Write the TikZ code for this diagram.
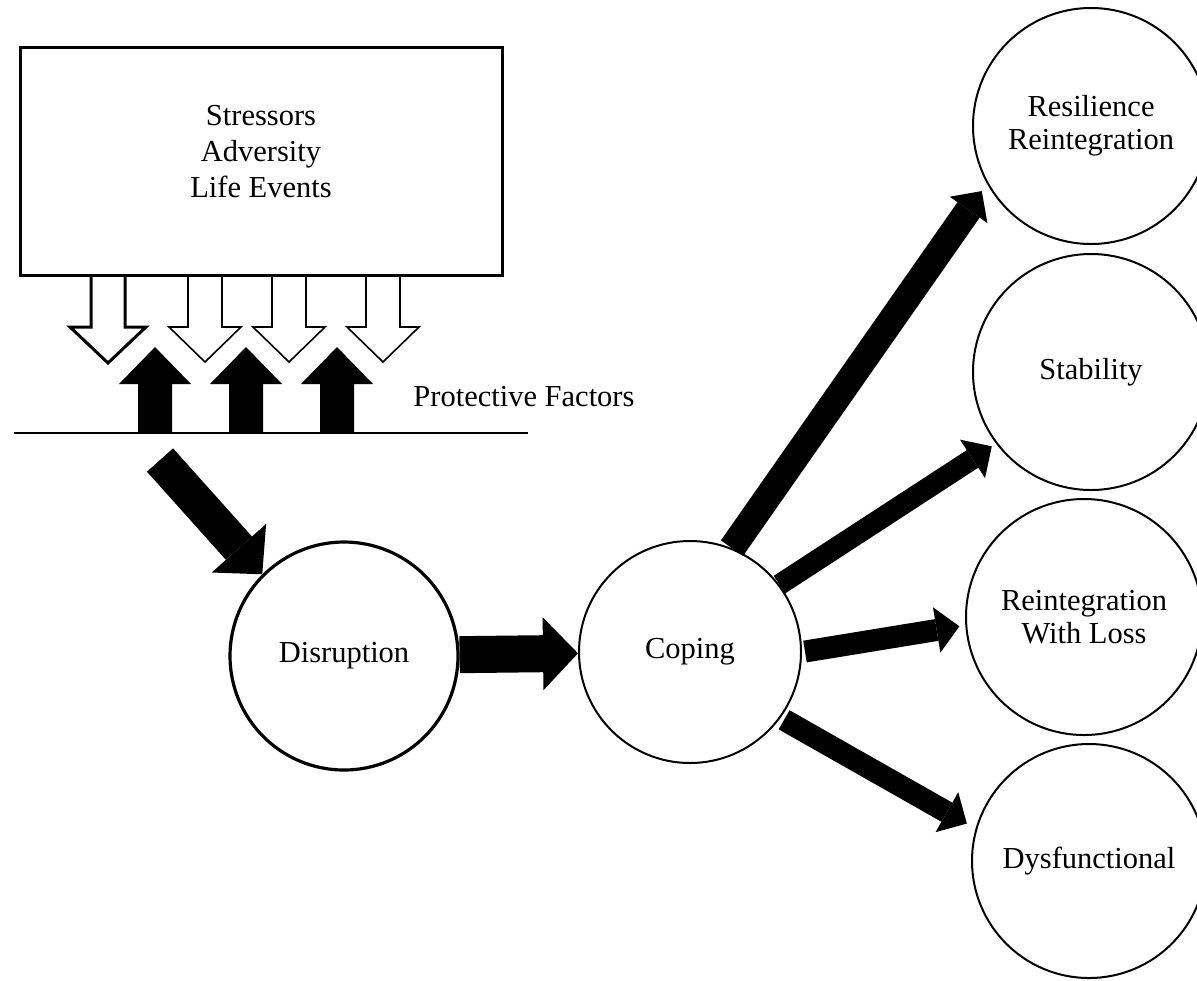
\documentclass[tikz,border=0pt]{standalone}
\usepackage{fontspec}
\setmainfont{Liberation Serif}
\usetikzlibrary{arrows.meta}
\tikzset{every picture/.style={line width=0.75pt}}
\tikzset{
  labelfont/.style={font=\fontsize{15.25pt}{16.5pt}\selectfont},
  stage/.style={circle, draw, fill=white, line width=1pt, minimum size=111pt,
    inner sep=0pt, align=center, labelfont},
  outcome/.style={stage, minimum size=118pt},
  flow/.style={line width=18.5pt, -{Triangle[width=36.5pt,length=17.5pt,line width=0pt]}},
  branch/.style={line width=#1, -{Triangle[width=23pt,length=11.5pt,line width=0pt]}},
  pushdown/.style={draw, fill=white, line width=0.8pt, line join=miter},
}

\begin{document}
\begin{tikzpicture}[x=0.5pt, y=-0.5pt]
    \useasboundingbox (0,0) rectangle (1197,980);
    \clip (0,0) rectangle (1197,980);

    % 压力源方框
    \node[draw, line width=1.5pt, minimum width=240.75pt, minimum height=114pt]
      (stress) at (261.5,161.5) {};
    \node[align=center, font=\fontsize{15.25pt}{18pt}\selectfont]
      (stresstext) at (261,152) {Stressors\\Adversity\\Life Events};

    % 向下的空心箭头
    \draw[pushdown, line width=1.5pt] (91,277) -- (91,327) -- (70,327) -- (108,363)
      -- (146,327) -- (125,327) -- (125,277);
    \foreach \x in {205,289,383}
      \draw[pushdown] (\x-17,277) -- (\x-17,327) -- (\x-36,327) -- (\x,362)
        -- (\x+36,327) -- (\x+17,327) -- (\x+17,277);

    % 保护因素
    \foreach \x in {155,246,337}
      \fill (\x-17,433) -- (\x-17,384) -- (\x-36,384) -- (\x,347)
        -- (\x+36,384) -- (\x+17,384) -- (\x+17,433) -- cycle;
    \draw[line width=1.2pt] (14,433) -- (528,433);
    \node[anchor=west, labelfont] (protect) at (406,397) {Protective Factors};

    % 过程节点
    \node[stage, line width=1.6pt, minimum size=114pt] (disr) at (344,656) {Disruption};
    \node[stage] (cope) at (690,652) {Coping};

    % 结果节点
    \node[outcome] (resil) at (1091,126) {Resilience\\Reintegration};
    \node[outcome] (stab) at (1091,372) {Stability};
    \node[outcome] (loss) at (1084,617) {Reintegration\\With Loss};
    \node[outcome, minimum size=117pt] (dysf) at (1089,861) {Dysfunctional};

    % 箭头
    \coordinate (impact) at (160,460);
    \draw[flow, line width=17.5pt] (impact) -- (disr.135);
    \draw[flow] (disr) -- (cope);
    \draw[branch=13.5pt, shorten >=4.5pt] (cope.68) -- (resil.209);
    \draw[branch=10.5pt, shorten >=2.5pt] (cope.37) -- (stab.217);
    \draw[branch=11pt, shorten <=1.5pt, shorten >=3pt] (cope.0) -- (loss.184);
    \draw[branch=11pt, shorten <=2pt, shorten >=5pt] (cope.324) -- (dysf.164);
\end{tikzpicture}
\end{document}
